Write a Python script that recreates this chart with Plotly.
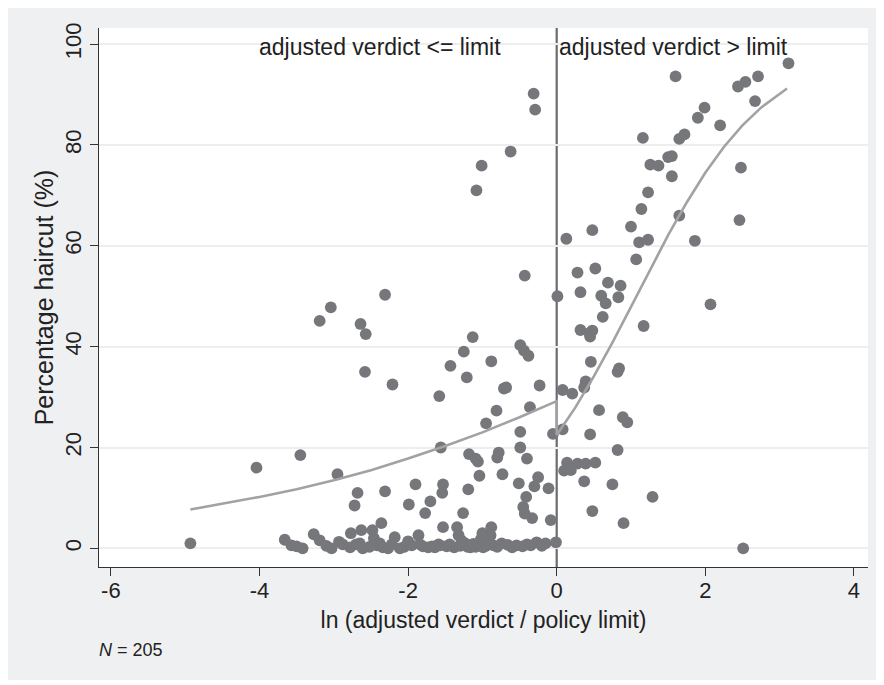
import plotly.graph_objects as go

# ln(adjusted verdict / policy limit) and percentage haircut
x_left = [-4.93, -4.04, -3.45, -2.95, -3.19, -3.04, -2.64, -2.57, -2.31, -2.58,
          -2.21, -2.68, -2.31, -2.72, -1.90, -1.99, -1.70, -1.77, -2.36, -3.27,
          -3.19, -3.42, -3.03, -2.93, -2.78, -2.77, -2.63, -2.65, -2.48, -2.46,
          -2.38, -2.34, -2.27, -2.18, -2.11, -2.00, -1.86, -1.84, -1.73, -1.59,
          -3.66, -3.57, -2.70, -2.61,
          -1.04, -0.73, -0.25, -1.53, -1.54, -1.19, -0.51, -0.30, -0.11, -0.41,
          -0.45, -0.43, -0.33, -1.26, -0.08, -1.53, -1.34, -1.32, -0.88, -0.89,
          -1.68, -1.57, -1.48, -1.38, -1.23, -1.16, -1.09, -1.02, -0.99, -0.85,
          -0.74, -0.54, -0.35, -0.27, -0.01,
          -1.13, -1.25, -1.43, -1.21, -0.88, -0.49, -0.44, -0.38, -1.58, -0.71,
          -0.68, -0.23, -0.81, -0.36, -0.95, -0.49, -0.05, -1.56, -0.49, -1.18,
          -1.09, -1.06, -0.78, -0.80, -0.40,
          -0.31, -0.29, -0.62, -1.01, -1.08, -0.43,
          -3.50, -3.10, -2.88, -2.52, -2.42, -2.22, -2.05, -1.95, -1.80, -1.64,
          -1.44, -1.30, -1.20, -1.12, -0.95, -0.80, -0.66, -0.60, -0.46, -0.40,
          -0.20, -0.15, -1.00, -0.92, -1.28]
y_left = [1.0, 16.0, 18.5, 14.7, 45.1, 47.8, 44.5, 42.5, 50.3, 35.0,
          32.5, 11.0, 11.3, 8.5, 12.7, 8.7, 9.3, 7.0, 5.0, 2.8,
          1.6, 0.0, 0.0, 1.3, 0.2, 3.0, 3.6, 1.0, 3.6, 2.0,
          1.0, 0.2, 0.0, 2.2, 0.0, 1.4, 2.6, 0.8, 0.2, 0.8,
          1.7, 0.6, 0.8, 0.0,
          14.4, 14.7, 14.1, 12.7, 11.0, 11.7, 12.9, 12.3, 11.9, 10.2,
          8.2, 6.9, 6.0, 7.0, 5.6, 4.2, 4.2, 2.6, 4.2, 2.6,
          0.4, 0.6, 0.4, 0.2, 1.0, 0.2, 0.3, 1.8, 0.2, 0.6,
          1.0, 0.6, 0.6, 1.2, 1.2,
          41.9, 39.0, 36.2, 33.9, 37.1, 40.3, 39.2, 38.2, 30.2, 31.7,
          31.9, 32.3, 27.3, 28.0, 24.8, 23.1, 22.7, 20.0, 20.0, 18.7,
          17.8, 17.2, 19.0, 18.0, 17.8,
          90.2, 87.0, 78.7, 75.9, 71.0, 54.1,
          0.4, 0.5, 0.8, 0.3, 0.6, 0.8, 0.3, 0.6, 0.4, 0.2,
          0.8, 0.5, 0.3, 0.9, 0.5, 0.3, 0.7, 0.2, 0.4, 0.8,
          0.5, 1.0, 3.0, 1.2, 1.5]

x_right = [0.01, 0.28, 0.52, 1.07, 0.69, 0.86, 0.32, 0.60, 0.66, 0.83,
           0.62, 1.17, 2.07, 0.32, 0.44, 0.48, 0.45, 0.46, 0.84, 0.82,
           0.39, 0.37, 0.08, 0.21, 0.57, 0.89, 0.95, 0.08, 0.45, 0.82,
           0.14, 0.28, 0.39, 0.52, 0.10, 0.19, 0.37, 0.75, 1.29, 0.48,
           0.90, 2.51, 0.13, 0.48, 1.00, 1.11, 1.23, 1.86, 3.12, 1.60,
           2.44, 2.54, 2.71, 2.67, 1.99, 1.90, 2.20, 1.16, 1.72, 1.65,
           1.50, 1.26, 1.37, 1.55, 1.23, 1.14, 2.48, 1.65, 2.46, 1.55]
y_right = [50.0, 54.7, 55.5, 57.3, 52.7, 52.1, 50.8, 50.1, 48.6, 49.8,
           45.9, 44.1, 48.4, 43.3, 42.7, 43.2, 42.0, 37.0, 35.7, 35.0,
           33.1, 31.9, 31.4, 30.7, 27.4, 26.0, 25.0, 23.6, 22.6, 19.5,
           17.0, 16.8, 16.8, 17.0, 15.4, 15.5, 13.3, 12.7, 10.2, 7.4,
           5.0, 0.0, 61.4, 63.1, 63.8, 60.7, 61.2, 61.0, 96.2, 93.6,
           91.6, 92.5, 93.6, 88.7, 87.4, 85.4, 83.9, 81.4, 82.1, 81.2,
           77.6, 76.1, 75.9, 73.8, 70.6, 67.3, 75.5, 66.0, 65.1, 77.8]

# fitted curve (left branch, then right branch)
fit_x = [-4.93, -4.5, -4.0, -3.5, -3.0, -2.5, -2.0, -1.5, -1.0, -0.5, 0.0,
         0.0, 0.25, 0.5, 0.75, 1.0, 1.25, 1.5, 1.75, 2.0, 2.25, 2.5, 2.75, 3.1]
fit_y = [7.7, 8.8, 10.2, 11.7, 13.5, 15.5, 17.8, 20.3, 23.0, 26.0, 29.2,
         22.5, 27.9, 34.1, 40.8, 47.9, 55.1, 62.1, 68.6, 74.5, 79.6, 83.9, 87.4, 91.2]

x_ticks = [-6, -4, -2, 0, 2, 4]
y_ticks = [0, 20, 40, 60, 80, 100]

FONT = "Liberation Sans, Arial, sans-serif"
TXT = "#222222"

fig = go.Figure()
fig.add_trace(go.Scatter(
    x=x_left + x_right, y=y_left + y_right, mode="markers",
    marker=dict(size=11.8, color="#76777b", line=dict(width=0)),
    showlegend=False, hoverinfo="x+y"))
fig.add_trace(go.Scatter(
    x=fit_x, y=fit_y, mode="lines",
    line=dict(color="#a2a2a4", width=2.6),
    showlegend=False))

fig.add_shape(type="line", xref="x", yref="paper", x0=0, x1=0, y0=0, y1=1,
              line=dict(color="#6a6b6e", width=2.2), layer="below")

fig.add_annotation(x=-0.72, y=99.5, xref="x", yref="y", text="adjusted verdict <= limit",
                   showarrow=False, xanchor="right", yanchor="middle",
                   font=dict(family=FONT, size=23, color=TXT))
fig.add_annotation(x=0.0, y=99.5, xref="x", yref="y", text="adjusted verdict > limit",
                   showarrow=False, xanchor="left", yanchor="middle",
                   font=dict(family=FONT, size=23, color=TXT))
fig.add_annotation(x=-0.002, y=-0.154, xref="paper", yref="paper",
                   text="<i>N</i> = 205", showarrow=False,
                   xanchor="left", yanchor="middle",
                   font=dict(family=FONT, size=18, color=TXT))

fig.update_layout(
    width=870, height=672,
    margin=dict(l=91, r=10, t=20, b=113),
    paper_bgcolor="#eff0f2", plot_bgcolor="#ffffff",
    font=dict(family=FONT, color=TXT),
    xaxis=dict(range=[-6.16, 4.19], tickvals=x_ticks, ticktext=[str(v) for v in x_ticks],
               showgrid=False, zeroline=False, showline=True, linecolor="#333333",
               linewidth=1.3, ticks="outside", ticklen=8, tickcolor="#333333",
               ticklabelstandoff=-5,
               tickfont=dict(size=22, family=FONT, color=TXT),
               title=dict(text="ln (adjusted verdict / policy limit)",
                          font=dict(size=23, family=FONT, color=TXT), standoff=10)),
    yaxis=dict(range=[-3.7, 103.2], tickvals=y_ticks, ticktext=[str(v) for v in y_ticks],
               showgrid=True, gridcolor="#eeeeee", gridwidth=1.5,
               zeroline=False, showline=True, linecolor="#333333", linewidth=1.3,
               ticks="outside", ticklen=8, tickcolor="#333333", tickangle=-90,
               tickfont=dict(size=22, family=FONT, color=TXT),
               title=dict(text="Percentage haircut (%)",
                          font=dict(size=25, family=FONT, color=TXT), standoff=0)),
)

fig.write_html("out.html")
